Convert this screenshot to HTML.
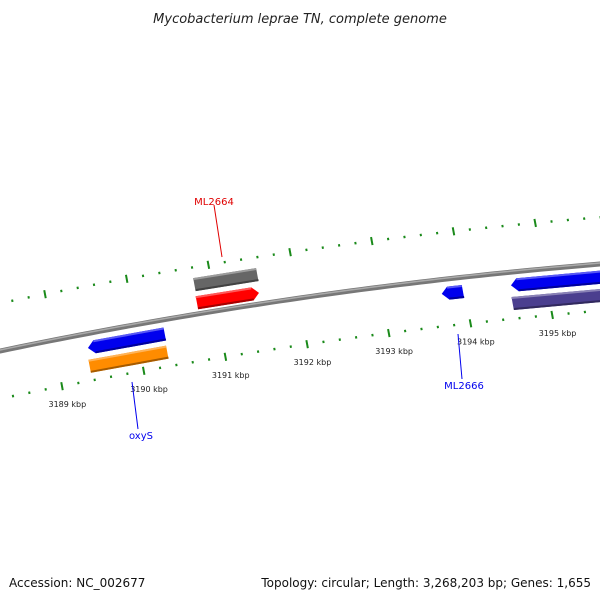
<!DOCTYPE html>
<html><head><meta charset="utf-8"><style>
body{margin:0;background:#fff}
svg{display:block;font-family:"DejaVu Sans","Liberation Sans",sans-serif}
</style></head><body>
<svg id="map" width="600" height="600" viewBox="0 0 600 600">
<text x="300" y="23" text-anchor="middle" font-size="13" font-style="italic" fill="#222">Mycobacterium leprae TN, complete genome</text>
<g id="ticks"></g>
<g id="backbone"></g>
<g id="genes"></g>
<g id="labels"></g>
<text x="9" y="587" font-size="12" fill="#111">Accession: NC_002677</text>
<text x="591" y="587" text-anchor="end" font-size="12" fill="#111">Topology: circular; Length: 3,268,203 bp; Genes: 1,655</text>
</svg>
<script>
const tickStartKbp = 3188.2, tickEndKbp = 3195.8;
const tickLabelsKbp = [3189,3190,3191,3192,3193,3194,3195];
const geneNames = ["ML2664-gray","ML2664","blue-left","oxyS","ML2666","blue-right","purple"];
const geneStart = [3190.79,3190.78,3189.39,3189.37,3193.72,3194.57,3194.55];
const geneEnd   = [3191.56,3191.54,3190.33,3190.32,3193.98,3195.70,3195.70];
const geneOffset= [-29,-11,14,32,14,13,31];
const geneStrand= [0,1,-1,0,-1,-1,0];
const geneColor = ["#666666","#ff0000","#0000ee","#ff8c00","#0000ee","#0000ee","#4b3f8f"];
const calloutNames = ["ML2664","oxyS","ML2666"];
const calloutColors = ["#e00000","#0000ee","#0000ee"];

const NS="http://www.w3.org/2000/svg";
function xb(k){return 53.5+(k-3189)*81.7;}
function yb(x){return 351-0.2083*x+0.0001056*x*x;}
function pt(k,off){const x=xb(k);return [x+0.185*off, yb(x)+off];}
function el(tag,attrs,parent){const e=document.createElementNS(NS,tag);for(const a in attrs)e.setAttribute(a,attrs[a]);parent.appendChild(e);return e;}

const bb=document.getElementById('backbone');
let d="";for(let x=-10;x<=610;x+=10){d+=(x===-10?"M":"L")+x+","+yb(x).toFixed(2)+" ";}
const b1=el('path',{d:d,stroke:'#777',"stroke-width":5,fill:'none'},bb);


const b2=el('path',{d:d,stroke:'#aaa',"stroke-width":1.5,fill:'none',transform:'translate(0,-1)'},bb);



const tg=document.getElementById('ticks');
for(let i=0;;i++){const k=Math.round((tickStartKbp+i*0.2)*10)/10;if(k>tickEndKbp)break;
  const major=Math.abs(k-Math.round(k))<0.01;
  [-46,46].forEach(off=>{const h=major?4:1.2;const a=pt(k,off-h),b=pt(k,off+h);
    const t=el('line',{x1:a[0],y1:a[1],x2:b[0],y2:b[1],stroke:'#1a8a1a',"stroke-width":2},tg);
    
    });
}
tickLabelsKbp.forEach(k=>{const p=pt(k,64);
  const t=el('text',{x:p[0]+2,y:p[1]+3,"text-anchor":"middle","font-size":8,fill:'#222'},tg);
  t.textContent=k+" kbp";
  
  });

const gg=document.getElementById('genes');
function shade(hex,f){const n=parseInt(hex.slice(1),16);let r=n>>16,g=(n>>8)&255,b=n&255;
  const m=c=>Math.max(0,Math.min(255,Math.round(f>0?c+(255-c)*f:c*(1+f))));return `rgb(${m(r)},${m(g)},${m(b)})`;}
geneNames.forEach((nm,i)=>{const s=geneStart[i],e=geneEnd[i],o=geneOffset[i],h=6.5,ah=0.08;
  let pts;
  if(geneStrand[i]===1){pts=[pt(s,o-h),pt(e-ah,o-h),pt(e,o),pt(e-ah,o+h),pt(s,o+h)];}
  else if(geneStrand[i]===-1){pts=[pt(s+ah,o-h),pt(e,o-h),pt(e,o+h),pt(s+ah,o+h),pt(s,o)];}
  else {pts=[pt(s,o-h),pt(e,o-h),pt(e,o+h),pt(s,o+h)];}
  const g=el('g',{},gg);
  
  
  el('polygon',{points:pts.map(p=>p.join(',')).join(' '),fill:geneColor[i]},g);
  const t1=pt(s+(geneStrand[i]===-1?ah:0),o-h),t2=pt(e-(geneStrand[i]===1?ah:0),o-h);
  el('line',{x1:t1[0],y1:t1[1]+1,x2:t2[0],y2:t2[1]+1,stroke:shade(geneColor[i],0.35),"stroke-width":2},g);
  const u1=pt(s+(geneStrand[i]===-1?ah:0),o+h),u2=pt(e-(geneStrand[i]===1?ah:0),o+h);
  el('line',{x1:u1[0],y1:u1[1]-1,x2:u2[0],y2:u2[1]-1,stroke:shade(geneColor[i],-0.35),"stroke-width":2},g);
});

const lg=document.getElementById('labels');
const callouts=[[214,205,222,257,214,205],[132,382,138,429,141,439],[458,334,462,379,464,389]];
callouts.forEach((c,i)=>{
  const l=el('line',{x1:c[0],y1:c[1],x2:c[2],y2:c[3],stroke:calloutColors[i],"stroke-width":1},lg);
  
  
  const t=el('text',{x:c[4],y:c[5],"text-anchor":"middle","font-size":10,fill:calloutColors[i]},lg);
  t.textContent=calloutNames[i];
  
  
});
</script>
</body></html>
